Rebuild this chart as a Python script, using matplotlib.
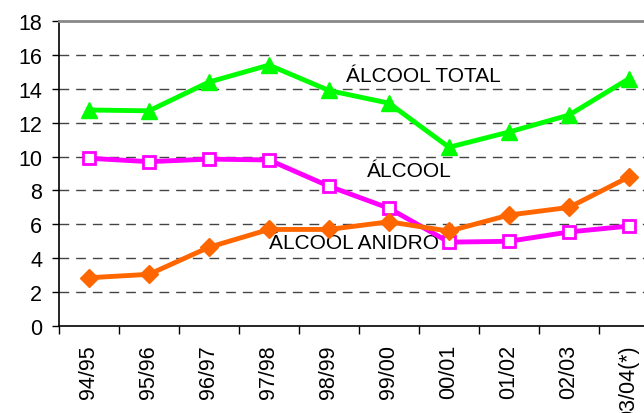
import matplotlib
matplotlib.use("Agg")
import matplotlib.pyplot as plt

# === Data ===
safras = ["94/95", "95/96", "96/97", "97/98", "98/99", "99/00",
          "00/01", "01/02", "02/03", "03/04(*)"]
alcool_total = [12.75, 12.7, 14.4, 15.4, 13.9, 13.15, 10.55, 11.45, 12.45, 14.6]
alcool_hidratado = [9.9, 9.7, 9.85, 9.8, 8.25, 6.95, 4.95, 5.0, 5.55, 5.9]
alcool_anidro = [2.85, 3.05, 4.65, 5.7, 5.7, 6.15, 5.6, 6.55, 7.0, 8.8]

plt.rcParams['font.family'] = ['Liberation Sans', 'DejaVu Sans']

fig = plt.figure(figsize=(6.44, 4.14), dpi=100)
ax = fig.add_axes([0.0916, 0.2101, 0.9317, 0.7367])

x = list(range(len(safras)))
ax.plot(x, alcool_total, color='#00FF00', lw=3.5, marker='^', ms=11,
        mec='#00FF00', mfc='#00FF00', zorder=3)
ax.plot(x, alcool_hidratado, color='#FF00FF', lw=3.5, marker='s', ms=9,
        mec='#FF00FF', mfc='white', mew=2, zorder=3)
ax.plot(x, alcool_anidro, color='#FF6600', lw=3.5, marker='D', ms=9,
        mec='#FF6600', mfc='#FF6600', zorder=3)

ax.set_xlim(-0.5, len(safras) - 0.5)
ax.set_ylim(0, 18)
ax.set_yticks(range(0, 19, 2))
ax.tick_params(axis='y', labelsize=15.5, length=5, direction='out', width=1, pad=7)

# category ticks between points, labels centred on points
ax.set_xticks([i - 0.5 for i in range(len(safras) + 1)])
ax.set_xticklabels([])
ax.set_xticks(x, minor=True)
ax.set_xticklabels(safras, minor=True, rotation=90, fontsize=15.5, va='top')
ax.tick_params(axis='x', which='minor', length=0, pad=13)
ax.tick_params(axis='x', which='major', length=6, width=1)

for v in range(2, 18, 2):
    ax.axhline(v, color='#444444', lw=1, ls=(0, (7, 5)), zorder=1)

for s in ['left', 'bottom']:
    ax.spines[s].set_linewidth(1.2)
    ax.spines[s].set_color('black')
ax.spines['top'].set_color('#888888')
ax.spines['top'].set_linewidth(2)
ax.spines['right'].set_visible(False)

ax.text(4.28, 14.76, "ÁLCOOL TOTAL", fontsize=15, va='center', ha='left', zorder=4)
ax.text(4.63, 9.15, "ÁLCOOL", fontsize=15, va='center', ha='left', zorder=4)
ax.text(3.0, 4.9, "ÁLCOOL ANIDRO", fontsize=15, va='center', ha='left', zorder=2)

fig.savefig("out.png", dpi=100)
